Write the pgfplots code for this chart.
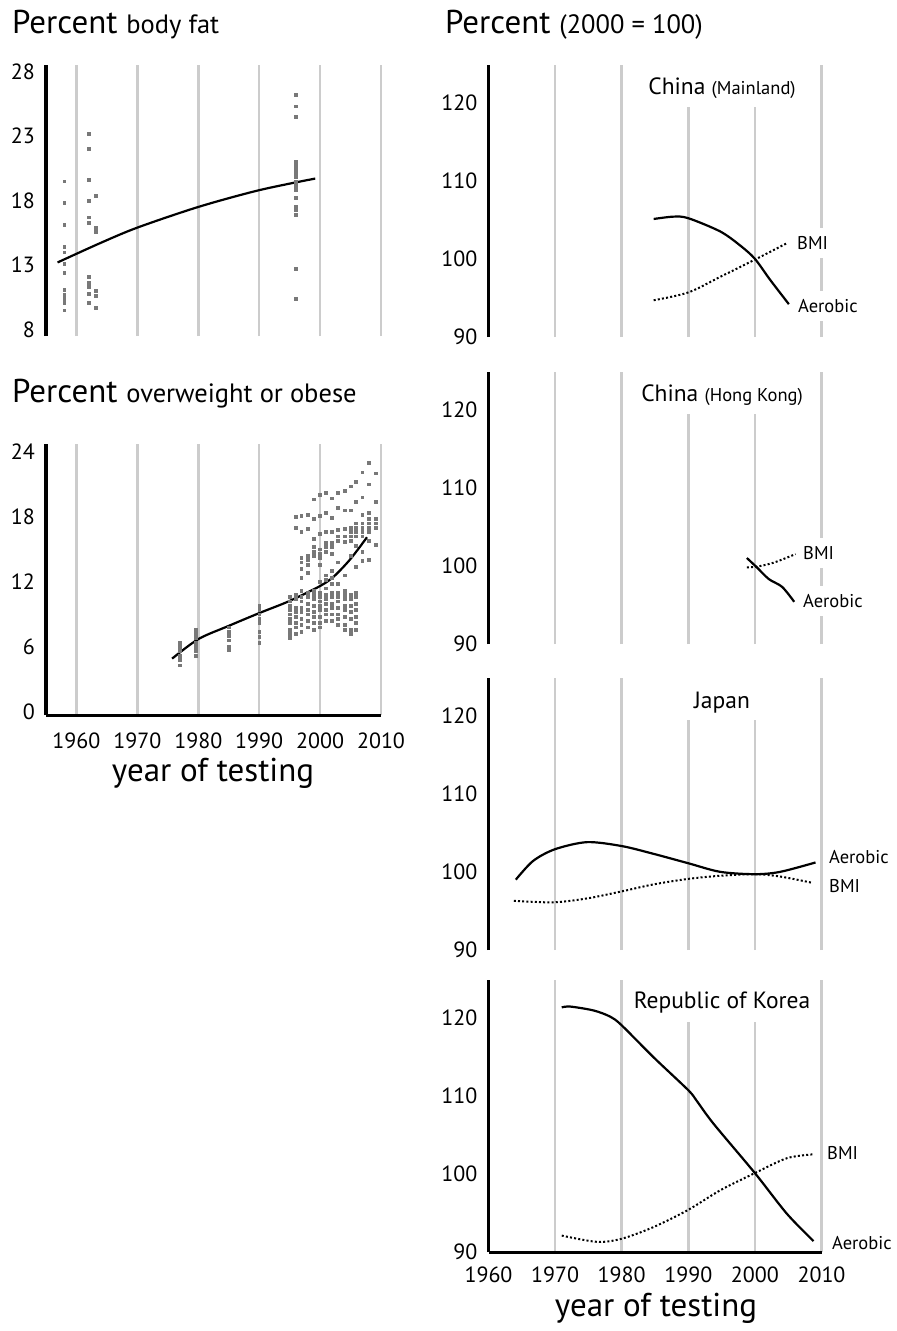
\documentclass[border=0pt]{standalone}
\usepackage{pgfplots}
\pgfplotsset{compat=1.18}
\usepackage{fontspec}
\setmainfont{PT Sans}

\newcommand\tickfont{\fontsize{22bp}{24bp}\selectfont}
\newcommand\bigt{\fontsize{33bp}{36bp}\selectfont}
\newcommand\midt{\fontsize{26.5bp}{28bp}\selectfont}
\newcommand\ctry{\fontsize{23.5bp}{26bp}\selectfont}
\newcommand\smallt{\fontsize{18.5bp}{20bp}\selectfont}

\definecolor{dotgray}{RGB}{120,120,120}

\pgfplotsset{
  panel/.style={
    scale only axis, anchor=south west,
    axis y line*=left, axis x line*=bottom,
    x axis line style={draw=none},
    y axis line style={line width=3bp, black},
    xmajorgrids, grid style={line width=2.6bp, gray!40},
    xtick={1960,1970,...,2010},
    major tick length=0pt,
    ticklabel style={font=\tickfont},
    yticklabel style={inner sep=0pt, xshift=-11bp},
    xticklabel style={inner sep=0pt},
    /pgf/number format/assume math mode=true,
    /pgf/number format/1000 sep={},
  },
  left/.style={panel, xmin=1955, xmax=2010, width=335bp, height=271bp},
  right/.style={panel, xmin=1960, xmax=2010, ymin=90, ymax=124.8,
    ytick={90,100,110,120}, width=333bp, height=272bp},
  fit/.style={black, line width=2.2bp, smooth, no markers},
  bmi/.style={black, line width=2bp, smooth, no markers, dash pattern=on 2bp off 2.2bp},
  pts/.style={only marks, mark=square*, mark size=1.4bp, dotgray, mark options={draw=none, fill=dotgray}},
}

\begin{document}
\begin{tikzpicture}
\useasboundingbox (0,0) rectangle (897bp,-1331bp);

% ---- Percent body fat ----
\begin{axis}[left, at={(46bp,-336bp)}, ymin=7.5, ymax=28.5, ytick={8,13,18,23,28}, xticklabels={}]
\addplot[pts] coordinates {
 (1958,19.5) (1958,17.8) (1958,16.1) (1958,14.4) (1958,14.0) (1958,13.1)
 (1958,12.4) (1958,11.1) (1958,10.7) (1958,10.4) (1958,10.1) (1958,9.5)
 (1962,23.2) (1962,22.0) (1962,19.6) (1962,18.0) (1962,16.7) (1962,16.3)
 (1962,12.1) (1962,11.6) (1962,11.3) (1962,10.8) (1962,10.1)
 (1963.2,18.4) (1963.2,15.9) (1963.2,15.6) (1963.2,11.0) (1963.2,10.6) (1963.2,9.7)
 (1996,26.2) (1996,25.3) (1996,24.5) (1996,21.0) (1996,20.8) (1996,20.6)
 (1996,20.4) (1996,20.2) (1996,20.0) (1996,19.8) (1996,19.5) (1996,19.3)
 (1996,19.0) (1996,18.8) (1996,18.2) (1996,17.5) (1996,17.3) (1996,16.9)
 (1996,12.7) (1996,10.4)
};
\addplot[fit] coordinates {
 (1956.9,13.2) (1963.9,14.7) (1970,15.9) (1980,17.5) (1990,18.8) (1999.2,19.7)
};
\end{axis}

% ---- Percent overweight or obese ----
\begin{axis}[left, at={(46bp,-715bp)}, ymin=-0.3, ymax=24.7, ytick={0,6,...,24},
  x axis line style={draw=black, line width=3bp}, xticklabel style={yshift=-18bp}]
\addplot[pts] table {
1976.9 6.4
1976.9 6.0
1976.9 5.6
1976.9 5.2
1976.9 4.8
1976.9 4.3
1979.6 7.6
1979.6 7.2
1979.6 6.8
1979.6 6.4
1979.6 6.0
1979.6 5.6
1979.6 5.2
1985 7.8
1985 7.4
1985 7.0
1985 6.6
1985 6.0
1985 5.7
1990 9.8
1990 9.4
1990 9.0
1990 8.6
1990 8.2
1990 7.4
1990 6.9
1990 6.4
1995 10.6
1995 10.2
1995 9.8
1995 9.4
1995 9.0
1995 8.6
1995 8.2
1995 7.6
1995 7.2
1995 6.8
1996 18.0
1996 17.0
1996 10.8
1996 10.4
1996 9.6
1996 9.2
1996 8.8
1996 8.2
1996 7.8
1996 7.2
1996.9 18.1
1996.9 16.6
1996.9 14.2
1996.9 13.8
1996.9 13.2
1996.9 12.4
1996.9 11.2
1996.9 10.6
1996.9 10.2
1996.9 9.6
1996.9 9.2
1996.9 8.6
1996.9 8.0
1996.9 7.4
1997.9 18.2
1997.9 16.9
1997.9 14.4
1997.9 14.0
1997.9 13.6
1997.9 12.8
1997.9 11.0
1997.9 10.6
1997.9 10.0
1997.9 9.4
1997.9 9.0
1997.9 8.4
1997.9 7.8
1998.9 19.6
1998.9 17.8
1998.9 16.0
1998.9 15.2
1998.9 14.8
1998.9 14.4
1998.9 11.2
1998.9 10.8
1998.9 10.4
1998.9 9.8
1998.9 9.2
1998.9 8.8
1998.9 8.2
1998.9 7.6
2000 20.0
2000 18.1
2000 16.4
2000 15.0
2000 14.6
2000 14.2
2000 13.6
2000 12.0
2000 11.0
2000 10.6
2000 10.2
2000 9.8
2000 9.4
2000 8.8
2000 8.2
2000 7.8
2000.9 20.2
2000.9 18.4
2000.9 16.6
2000.9 15.6
2000.9 15.2
2000.9 14.8
2000.9 12.6
2000.9 12.2
2000.9 11.4
2000.9 10.8
2000.9 10.4
2000.9 10.0
2000.9 9.4
2000.9 9.0
2000.9 8.4
2001.9 19.7
2001.9 17.9
2001.9 16.6
2001.9 15.6
2001.9 15.2
2001.9 14.6
2001.9 13.0
2001.9 12.4
2001.9 11.8
2001.9 11.0
2001.9 10.6
2001.9 10.0
2001.9 9.6
2001.9 9.0
2001.9 8.4
2002.9 20.2
2002.9 18.8
2002.9 16.8
2002.9 16.2
2002.9 15.8
2002.9 13.8
2002.9 11.8
2002.9 11.0
2002.9 10.6
2002.9 10.2
2002.9 9.6
2002.9 9.0
2002.9 8.6
2002.9 8.0
2004 20.4
2004 18.6
2004 16.9
2004 16.2
2004 15.7
2004 12.6
2004 11.2
2004 10.8
2004 10.4
2004 9.8
2004 9.4
2004 8.8
2004 8.0
2004 7.6
2005 20.8
2005 18.6
2005 17.0
2005 16.6
2005 16.2
2005 15.8
2005 14.4
2005 10.8
2005 10.4
2005 9.8
2005 9.2
2005 8.6
2005 7.6
2005 7.2
2005.9 21.2
2005.9 19.4
2005.9 17.4
2005.9 17.0
2005.9 16.6
2005.9 16.2
2005.9 15.3
2005.9 13.4
2005.9 11.0
2005.9 10.6
2005.9 10.0
2005.9 9.4
2005.9 8.8
2005.9 8.2
2005.9 7.6
2006.9 22.1
2006.9 19.8
2006.9 18.2
2006.9 17.4
2006.9 17.0
2006.9 16.6
2006.9 16.2
2006.9 14.8
2006.9 13.9
2008 23.0
2008 21.0
2008 18.4
2008 17.8
2008 17.4
2008 17.0
2008 16.6
2008 15.8
2008 14.0
2009.1 22.0
2009.1 19.4
2009.1 17.8
2009.1 17.4
2009.1 17.0
2009.1 15.4
};
\addplot[fit] coordinates {
 (1975.7,4.9) (1980,6.7) (1984.9,7.9) (1990,9.1) (1994.9,10.2) (2000,11.6)
 (2002.3,12.5) (2005,14.1) (2007.7,16.1)
};
\end{axis}

% ---- China (Mainland) ----
\begin{axis}[right, at={(488.5bp,-337bp)}, xticklabels={}]
\addplot[fit] coordinates {
 (1984.8,105.1) (1987.8,105.4) (1990,105.2) (1994.8,103.5) (1997.8,101.7)
 (2000,100.0) (2002.3,97.3) (2005.1,94.2)
};
\addplot[bmi] coordinates {
 (1984.8,94.7) (1990,95.7) (1994.8,97.7) (2000,99.9) (2004.8,102.0)
};
\end{axis}

% ---- China (Hong Kong) ----
\begin{axis}[right, at={(488.5bp,-644bp)}, xticklabels={}]
\addplot[fit] coordinates {
 (1998.8,101.0) (2000.3,99.8) (2002.1,98.3) (2004.1,97.3) (2005.9,95.4)
};
\addplot[bmi] coordinates {
 (1998.8,99.8) (2000.3,99.9) (2002.8,100.4) (2006.1,101.5)
};
\end{axis}

% ---- Japan ----
\begin{axis}[right, at={(488.5bp,-950bp)}, xticklabels={}]
\addplot[fit] coordinates {
 (1964.1,99.0) (1966.7,101.4) (1970,102.9) (1974.8,103.8) (1980,103.3)
 (1984.8,102.3) (1990,101.1) (1994.8,100.0) (2000,99.7) (2003.8,100.0) (2009.1,101.2)
};
\addplot[bmi] coordinates {
 (1963.8,96.3) (1969.7,96.1) (1974.8,96.6) (1980,97.5) (1984.8,98.4)
 (1990,99.1) (1994.8,99.5) (2000,99.7) (2003.8,99.4) (2008.6,98.6)
};
\end{axis}

% ---- Republic of Korea ----
\begin{axis}[right, at={(488.5bp,-1252bp)},
  x axis line style={draw=black, line width=3bp}, xticklabel style={yshift=-15bp}]
\addplot[fit] coordinates {
 (1971,121.3) (1972.3,121.4) (1975.8,120.9) (1978.3,120.1) (1980,119.0)
 (1984.8,114.9) (1990,110.7) (1991.3,109.3) (1993.8,106.4) (2000,100.1)
 (2004.8,94.9) (2008.8,91.4)
};
\addplot[bmi] coordinates {
 (1971,92.1) (1976.3,91.3) (1980,91.7) (1984.8,93.2) (1990,95.4)
 (1994.8,97.9) (2000,100.1) (2004.8,102.0) (2008.8,102.5)
};
\end{axis}

% titles
\node[anchor=base west, inner sep=0pt] at (12bp,-33bp) {\bigt Percent \midt body fat};
\node[anchor=base west, inner sep=0pt] at (12bp,-402bp) {\bigt Percent \midt overweight or obese};
\node[anchor=base west, inner sep=0pt] at (445bp,-33bp) {\bigt Percent \midt (2000 = 100)};

% country titles (white box interrupts grid lines)
\foreach \t in {65,372,678,980} {
  \fill[white] (630bp,-\t bp+1bp) rectangle (814bp,-\t bp-42bp);
}
\node at (722bp,-88bp) {\ctry China \smallt(Mainland)};
\node at (722bp,-395bp) {\ctry China \smallt(Hong Kong)};
\node at (722bp,-703bp) {\ctry Japan};
\node at (722bp,-1003bp) {\ctry Republic of Korea};

% series labels
\tikzset{lab/.style={anchor=west, fill=white, inner xsep=2bp, inner ysep=0pt, minimum height=30bp, font=\smallt}}
\node[lab] at (795bp,-243bp) {BMI};
\node[lab] at (796bp,-306bp) {Aerobic};
\node[lab] at (801bp,-553bp) {BMI};
\node[lab] at (801bp,-601bp) {Aerobic};
\node[lab] at (827bp,-857bp) {Aerobic};
\node[lab] at (827bp,-886bp) {BMI};
\node[lab] at (825bp,-1153bp) {BMI};
\node[lab] at (830bp,-1243bp) {Aerobic};

% axis titles
\node[font=\fontsize{33bp}{36bp}\selectfont] at (213bp,-773bp) {year of testing};
\node[font=\fontsize{33bp}{36bp}\selectfont] at (656bp,-1308bp) {year of testing};
\end{tikzpicture}
\end{document}
